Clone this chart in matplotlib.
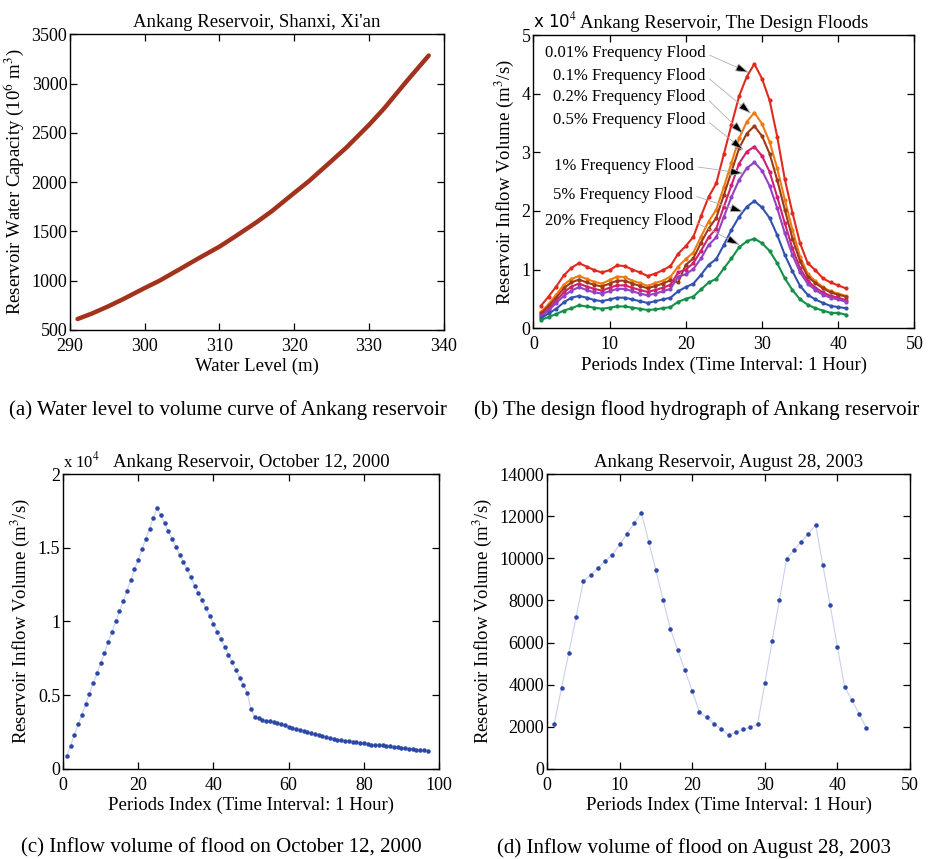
import matplotlib
matplotlib.use('Agg')
import matplotlib.pyplot as plt
import numpy as np

plt.rcParams['font.family'] = ['Liberation Serif', 'DejaVu Serif']
plt.rcParams['mathtext.fontset'] = 'stix'

# ---------------------------------------------------------------- data
# (a) level-volume curve
levels = [291, 293, 295, 297, 300, 302, 305, 307, 310, 312,
          315, 317, 320, 322, 325, 327, 330, 332, 335, 338]
capacity = [610, 668, 735, 808, 925, 1000, 1130, 1218, 1345, 1443,
            1595, 1705, 1890, 2012, 2215, 2352, 2580, 2745, 3020, 3285]

# (b) design floods, x 10^4 m3/s, periods 1..41
flood_labels = ['0.01% Frequency Flood', '0.1% Frequency Flood',
                '0.2% Frequency Flood', '0.5% Frequency Flood',
                '1% Frequency Flood', '5% Frequency Flood',
                '20% Frequency Flood']
flood_colors = ['#e02a1e', '#f07a12', '#9c3a1a', '#d0206e',
                '#9442c4', '#3352b0', '#149048']
q001 = [0.38, 0.54, 0.71, 0.90, 1.03, 1.11, 1.05, 0.99, 0.95, 0.99,
        1.07, 1.06, 1.00, 0.95, 0.89, 0.93, 0.99, 1.06, 1.27, 1.40,
        1.56, 1.91, 2.24, 2.47, 2.97, 3.47, 3.96, 4.29, 4.51, 4.26,
        3.89, 3.27, 2.54, 1.97, 1.45, 1.11, 0.99, 0.85, 0.78, 0.73, 0.68]
q01 = [0.28, 0.41, 0.57, 0.74, 0.84, 0.89, 0.84, 0.79, 0.76, 0.82,
       0.88, 0.87, 0.81, 0.77, 0.72, 0.77, 0.81, 0.88, 1.05, 1.18,
       1.29, 1.56, 1.82, 2.02, 2.41, 2.82, 3.24, 3.52, 3.68, 3.49,
       3.18, 2.73, 2.19, 1.68, 1.22, 0.93, 0.80, 0.70, 0.63, 0.59, 0.55]
q02 = [0.25, 0.38, 0.52, 0.68, 0.78, 0.83, 0.78, 0.74, 0.71, 0.76,
       0.81, 0.81, 0.76, 0.72, 0.68, 0.72, 0.76, 0.82, 0.78, 1.08,
       1.19, 1.46, 1.70, 1.88, 2.27, 2.67, 3.07, 3.32, 3.45, 3.28,
       2.98, 2.53, 2.02, 1.53, 1.14, 0.88, 0.77, 0.68, 0.61, 0.57, 0.54]
q05 = [0.22, 0.33, 0.47, 0.61, 0.71, 0.76, 0.71, 0.67, 0.64, 0.69,
       0.73, 0.73, 0.69, 0.65, 0.62, 0.65, 0.69, 0.74, 0.95, 1.00,
       1.11, 1.32, 1.55, 1.70, 2.07, 2.44, 2.81, 3.01, 3.10, 2.94,
       2.67, 2.24, 1.79, 1.36, 1.02, 0.81, 0.69, 0.61, 0.55, 0.52, 0.48]
q1 = [0.20, 0.30, 0.43, 0.55, 0.64, 0.70, 0.65, 0.61, 0.59, 0.63,
      0.67, 0.67, 0.63, 0.59, 0.56, 0.59, 0.63, 0.67, 0.88, 0.92,
      1.01, 1.19, 1.42, 1.55, 1.90, 2.24, 2.53, 2.73, 2.83, 2.69,
      2.43, 2.05, 1.62, 1.25, 0.95, 0.76, 0.65, 0.57, 0.52, 0.49, 0.45]
q5 = [0.17, 0.25, 0.33, 0.44, 0.52, 0.55, 0.52, 0.48, 0.46, 0.49,
      0.52, 0.52, 0.49, 0.46, 0.43, 0.46, 0.49, 0.52, 0.63, 0.70,
      0.76, 0.91, 1.08, 1.18, 1.42, 1.68, 1.90, 2.07, 2.17, 2.06,
      1.88, 1.59, 1.25, 0.97, 0.72, 0.57, 0.49, 0.43, 0.38, 0.36, 0.34]
q20 = [0.14, 0.19, 0.24, 0.30, 0.34, 0.39, 0.37, 0.35, 0.33, 0.35,
       0.37, 0.37, 0.35, 0.33, 0.31, 0.32, 0.34, 0.36, 0.45, 0.50,
       0.54, 0.66, 0.78, 0.84, 1.02, 1.19, 1.38, 1.48, 1.53, 1.45,
       1.32, 1.11, 0.85, 0.65, 0.49, 0.40, 0.34, 0.30, 0.26, 0.26, 0.23]
# annotation: text right end (x, y) and arrow tip (x, y)
label_xy = [(22.6, 4.69), (22.6, 4.31), (22.6, 3.94), (22.6, 3.56),
            (21.1, 2.76), (20.9, 2.27), (20.9, 1.83)]
arrow_xy = [(28.3, 4.36), (28.6, 3.66), (27.6, 3.31), (27.6, 3.04),
            (27.6, 2.64), (27.6, 1.98), (27.1, 1.42)]

# (c) October 12, 2000 flood, m3/s, periods 1..97
oct2000 = [880, 1580, 2285, 3010, 3665, 4390, 5090, 5815, 6470, 7170,
           7870, 8600, 9300, 10000, 10680, 11380, 12100, 12800, 13530, 14185,
           14890, 15610, 16310, 17040, 17690, 17220, 16670, 16130, 15590, 15070,
           14520, 14050, 13530, 12990, 12440, 11920, 11450, 10900, 10380, 9840,
           9320, 8780, 8290, 7740, 7220, 6720, 6150, 5680, 5160, 4030,
           3484, 3416, 3326, 3258, 3213, 3145, 3100, 3009, 2941, 2851,
           2783, 2715, 2647, 2579, 2466, 2398, 2330, 2262, 2217, 2149,
           2104, 2014, 1946, 1923, 1878, 1855, 1833, 1787, 1765, 1719,
           1674, 1629, 1629, 1606, 1584, 1538, 1516, 1493, 1448, 1425,
           1380, 1357, 1335, 1290, 1267, 1244, 1176]

# (d) August 28, 2003 flood, m3/s, periods 1..44
aug2003 = [2140, 3850, 5515, 7210, 8920, 9210, 9540, 9870, 10170, 10665,
           11155, 11660, 12170, 10790, 9430, 8000, 6640, 5640, 4675, 3690,
           2690, 2440, 2140, 1900, 1600, 1730, 1870, 1980, 2110, 4060,
           6050, 8000, 9970, 10380, 10790, 11155, 11580, 9670, 7770, 5800,
           3880, 3265, 2600, 1930]

# ---------------------------------------------------------------- figure
fig = plt.figure(figsize=(9.34, 8.59), dpi=100)
ax_a = fig.add_axes([0.075, 0.616, 0.400, 0.344])
ax_b = fig.add_axes([0.571, 0.618, 0.408, 0.341])
ax_c = fig.add_axes([0.0675, 0.105, 0.4025, 0.343])
ax_d = fig.add_axes([0.5857, 0.105, 0.3886, 0.343])

TICK_FS = 13
LABEL_FS = 13.5


def style_axes(ax):
    ax.tick_params(direction='in', length=5, width=0.9, top=True,
                   right=True, labelsize=TICK_FS)
    ax.tick_params(axis='x', pad=6)
    ax.tick_params(axis='y', pad=2)
    for s in ax.spines.values():
        s.set_linewidth(1.0)


# (a)
ax_a.plot(levels, capacity, color='#a3321c', lw=3.2, solid_capstyle='round',
          solid_joinstyle='round')
ax_a.set_xlim(290, 340)
ax_a.set_ylim(500, 3500)
ax_a.set_xticks(np.arange(290, 341, 10))
ax_a.set_yticks(np.arange(500, 3501, 500))
ax_a.set_title("Ankang Reservoir, Shanxi, Xi'an", fontsize=LABEL_FS, pad=5)
ax_a.set_xlabel('Water Level (m)', fontsize=LABEL_FS, labelpad=2)
ax_a.set_ylabel('Reservoir Water Capacity (10$^6$ m$^3$)', fontsize=LABEL_FS)
style_axes(ax_a)

# (b)
periods_b = np.arange(1, 42)
series_b = [q001, q01, q02, q05, q1, q5, q20]
for ys, c in zip(series_b, flood_colors):
    ax_b.plot(periods_b, ys, color=c, lw=1.5, marker='.', ms=4)
for lab, (tx, ty), (hx, hy) in zip(flood_labels, label_xy, arrow_xy):
    ax_b.annotate(lab, xy=(hx, hy), xytext=(tx, ty), ha='right', va='center',
                  fontsize=12,
                  arrowprops=dict(arrowstyle='-|>,head_length=0.7,head_width=0.22',
                                  fc='black', ec='#b0b0b0', lw=0.6,
                                  shrinkA=1, shrinkB=0, relpos=(1, 0.5)))
ax_b.set_xlim(0, 50)
ax_b.set_ylim(0, 5)
ax_b.set_xticks(np.arange(0, 51, 10))
ax_b.set_yticks(np.arange(0, 6, 1))
ax_b.set_title('Ankang Reservoir, The Design Floods', fontsize=LABEL_FS, pad=5)
ax_b.set_xlabel('Periods Index (Time Interval: 1 Hour)', fontsize=LABEL_FS,
                labelpad=2)
ax_b.set_ylabel('Reservoir Inflow Volume (m$^3$/s)', fontsize=LABEL_FS)
ax_b.text(0.0, 1.012, 'x 10$^4$', transform=ax_b.transAxes, fontsize=12,
          family='DejaVu Sans', ha='left', va='bottom')
style_axes(ax_b)

# (c)
periods_c = np.arange(1, len(oct2000) + 1)
ax_c.plot(periods_c, oct2000, color='#c9d0f0', lw=0.8)
ax_c.plot(periods_c, oct2000, ls='none', marker='.', ms=4.5, color='#2b48a8')
ax_c.set_xlim(0, 100)
ax_c.set_ylim(0, 20000)
ax_c.set_xticks(np.arange(0, 101, 20))
ax_c.set_yticks(np.arange(0, 20001, 5000))
ax_c.set_yticklabels(['0', '0.5', '1', '1.5', '2'])
ax_c.set_title('Ankang Reservoir, October 12, 2000', fontsize=LABEL_FS, pad=5)
ax_c.set_xlabel('Periods Index (Time Interval: 1 Hour)', fontsize=LABEL_FS,
                labelpad=2)
ax_c.set_ylabel('Reservoir Inflow Volume (m$^3$/s)', fontsize=LABEL_FS)
ax_c.text(0.0, 1.01, 'x 10$^4$', transform=ax_c.transAxes, fontsize=12,
          ha='left', va='bottom')
style_axes(ax_c)

# (d)
periods_d = np.arange(1, len(aug2003) + 1)
ax_d.plot(periods_d, aug2003, color='#c9d0f0', lw=0.8)
ax_d.plot(periods_d, aug2003, ls='none', marker='.', ms=4.5, color='#2b48a8')
ax_d.set_xlim(0, 50)
ax_d.set_ylim(0, 14000)
ax_d.set_xticks(np.arange(0, 51, 10))
ax_d.set_yticks(np.arange(0, 14001, 2000))
ax_d.set_title('Ankang Reservoir, August 28, 2003', fontsize=LABEL_FS, pad=5)
ax_d.set_xlabel('Periods Index (Time Interval: 1 Hour)', fontsize=LABEL_FS,
                labelpad=2)
ax_d.set_ylabel('Reservoir Inflow Volume (m$^3$/s)', fontsize=LABEL_FS)
style_axes(ax_d)

# captions
CAP_FS = 15
fig.text(0.2445, 0.523, '(a) Water level to volume curve of Ankang reservoir',
         ha='center', va='center', fontsize=CAP_FS)
fig.text(0.746, 0.523, '(b) The design flood hydrograph of Ankang reservoir',
         ha='center', va='center', fontsize=CAP_FS)
fig.text(0.237, 0.013, '(c) Inflow volume of flood on October 12, 2000',
         ha='center', va='center', fontsize=CAP_FS)
fig.text(0.743, 0.013, '(d) Inflow volume of flood on August 28, 2003',
         ha='center', va='center', fontsize=CAP_FS)

fig.savefig('out.png', dpi=100)
